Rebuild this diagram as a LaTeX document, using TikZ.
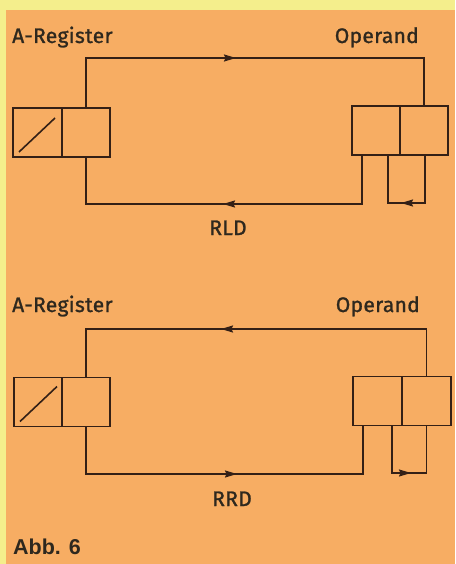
\documentclass[tikz,border=0pt]{standalone}
\usepackage{fontspec}
\usetikzlibrary{arrows.meta}
\newfontfamily\labfont[FakeBold=1.2,LetterSpace=1.5]{Fira Sans}
\newfontfamily\abbfont{Liberation Sans}
\definecolor{bgyellow}{RGB}{244,238,140}
\definecolor{bgorange}{RGB}{247,173,99}
\definecolor{ink}{RGB}{52,32,22}
\definecolor{txt}{RGB}{46,40,30}
\begin{document}
\begin{tikzpicture}[x=1pt,y=-1pt,
  cell/.style={draw=ink,line width=1.8pt,minimum width=48pt,minimum height=49pt,inner sep=0pt,outer sep=0pt},
  wire/.style={draw=ink,line width=1.5pt},
  arr/.style={-{Stealth[length=12pt,width=7pt,inset=1.5pt]}},
  lab/.style={text=txt,font=\labfont\fontsize{21}{23}\selectfont,inner sep=0pt},
]
\useasboundingbox (0,0) rectangle (455,564);
\fill[bgyellow] (0,0) rectangle (455,564);
\fill[bgorange] (6,10) rectangle (455,564);

% ---------- RLD ----------
\node[lab,anchor=base west] (areglabA) at (12,43) {A-Register};
\node[lab,anchor=base east] (oplabA) at (419,43) {Operand};
\node[cell,minimum width=49pt] (a1A) at (37.5,132.5) {};
\node[cell] (a2A) at (86,132.5) {};
\node[cell] (o1A) at (376,130.5) {};
\node[cell] (o2A) at (424,130.5) {};
\draw[ink,line width=1.6pt] ([xshift=6pt,yshift=5pt]a1A.south west) -- ([xshift=-7pt,yshift=-10pt]a1A.north east);
\coordinate (tcA) at (86,58);
\coordinate (taA) at (236,58);
\coordinate (teA) at (424,58);
\draw[wire] (a2A.north) -- (tcA) -- (teA) -- (o2A.north);
\draw[wire,arr] (tcA) -- (taA);
\coordinate (bcA) at (86,204);
\coordinate (baA) at (223,204);
\coordinate (beA) at (362,204);
\draw[wire] ([xshift=-14pt]o1A.south) -- (beA) -- (bcA) -- (a2A.south);
\draw[wire,arr] (beA) -- (baA);
\coordinate (lrA) at (425,203);
\coordinate (llA) at (388,203);
\coordinate (laA) at (401,203);
\draw[wire] ([xshift=1pt]o2A.south) -- (lrA) -- (llA) -- ([xshift=12pt]o1A.south);
\draw[wire,arr] (lrA) -- (laA);
\node[lab,anchor=base] (rld) at (228,235) {RLD};

% ---------- RRD ----------
\node[lab,anchor=base west] (areglabB) at (12,312) {A-Register};
\node[lab,anchor=base east] (oplabB) at (420,312) {Operand};
\node[cell] (a1B) at (38,402) {};
\node[cell] (a2B) at (86,402) {};
\node[cell,minimum width=49pt] (o1B) at (377.5,401) {};
\node[cell,minimum width=49pt] (o2B) at (426.5,401) {};
\draw[ink,line width=1.6pt] ([xshift=6pt,yshift=5pt]a1B.south west) -- ([xshift=-5pt,yshift=-9pt]a1B.north east);
\coordinate (tcB) at (86,329);
\coordinate (taB) at (221,329);
\coordinate (teB) at (426.5,329);
\draw[wire] (o2B.north) -- (teB) -- (tcB) -- (a2B.north);
\draw[wire,arr] (teB) -- (taB);
\coordinate (bcB) at (86,474);
\coordinate (baB) at (237,474);
\coordinate (beB) at (363,474);
\draw[wire] (a2B.south) -- (bcB) -- (beB) -- ([xshift=-14.5pt]o1B.south);
\draw[wire,arr] (bcB) -- (baB);
\coordinate (llB) at (392,473);
\coordinate (lrB) at (426.5,473);
\coordinate (laB) at (411,473);
\draw[wire] ([xshift=14.5pt]o1B.south) -- (llB) -- (lrB) -- (o2B.south);
\draw[wire,arr] (llB) -- (laB);
\node[lab,anchor=base] (rrd) at (232,506) {RRD};

\node[text=txt,font=\abbfont\bfseries\fontsize{21.5}{24}\selectfont,inner sep=0pt,anchor=base west] (abb) at (13,554.5) {Abb. 6};
\end{tikzpicture}
\end{document}
